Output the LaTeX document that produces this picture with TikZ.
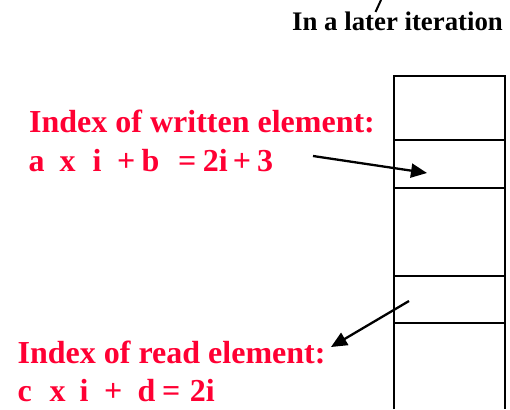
\documentclass[tikz,border=0pt]{standalone}
\usepackage{fontspec}
\setmainfont{Liberation Serif}
\usetikzlibrary{arrows.meta}
\definecolor{idxred}{HTML}{FF0033}
\tikzset{
  redtxt/.style={anchor=base west, inner sep=0pt, text=idxred, font=\fontsize{32}{39}\selectfont\bfseries},
  blacktxt/.style={anchor=base west, inner sep=0pt, font=\fontsize{26.8}{32}\selectfont\bfseries},
  cell/.style={draw, line width=2pt},
  pointer/.style={line width=2.3pt, -{Triangle[length=16pt,width=14pt]}},
}
\begin{document}
\begin{tikzpicture}[x=1pt,y=-1pt]
\useasboundingbox (0,0) rectangle (510,409);
% column
\draw[cell] (394,409) -- (394,76) -- (505,76) -- (505,409);
\draw[cell] (394,140) -- (505,140);
\draw[cell] (394,188) -- (505,188);
\draw[cell] (394,276) -- (505,276);
\draw[cell] (394,323) -- (505,323);
\coordinate (w) at (427,173);
\coordinate (r) at (409,301);
% texts
\node[blacktxt] (later) at (292,31) {In a later iteration};
\coordinate (tick) at (381,0);
\draw[line width=2pt] (375.5,12) -- (tick);
\node[redtxt] (wt1) at (29,132) {Index of written element:};
\node[redtxt] (wt2) at (28.5,171) {a\hspace{15pt}x\hspace{17pt}i\hspace{15.6pt}+\hspace{6.3pt}b\hspace{18.7pt}=\hspace{6.5pt}2i\hspace{5pt}+\hspace{6pt}3};
\node[redtxt] (rd1) at (17.5,363) {Index of read element:};
\node[redtxt] (rd2) at (17.5,401) {c\hspace{17.8pt}x\hspace{14pt}i\hspace{15.6pt}+\hspace{15.3pt}d\hspace{6.7pt}=\hspace{9.5pt}2i};
% arrows
\coordinate (ws) at (313,156);
\coordinate (rt) at (331,347);
\draw[pointer] (ws) -- (w);
\draw[pointer] (r) -- (rt);
\end{tikzpicture}
\end{document}
